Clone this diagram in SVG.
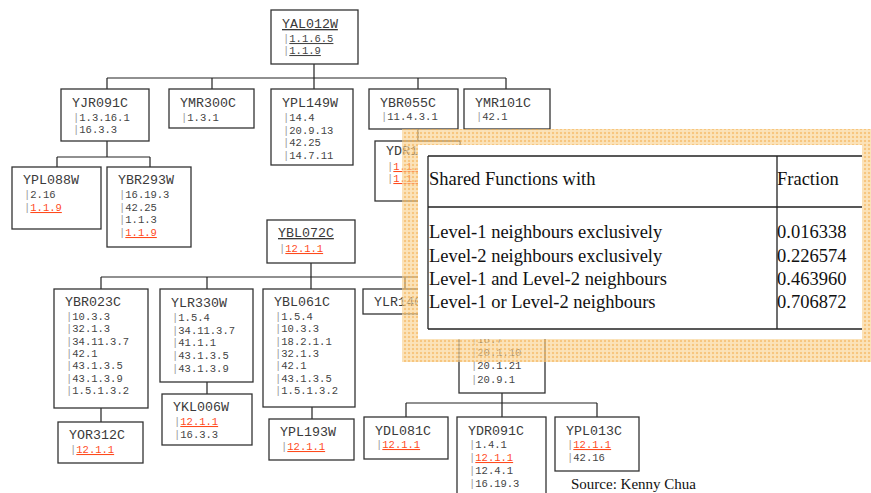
<svg xmlns="http://www.w3.org/2000/svg" width="871" height="493" viewBox="0 0 871 493">
<defs>
<style>
.box{fill:#fff;stroke:#333;stroke-width:1.3}
.t{font-family:"Liberation Mono",monospace;font-size:13.3px;fill:#3a3a3a}
.s{font-family:"Liberation Mono",monospace;font-size:10.5px;fill:#444}
.b{fill:#999}
.r{fill:#ff4a1c;text-decoration:underline}
.u{text-decoration:underline}
.c{stroke:#222;stroke-width:1.2;fill:none}
.tl{stroke:#222;stroke-width:1.3;fill:none}
.tx{font-family:"Liberation Serif",serif;font-size:18.5px;fill:#111}
</style>
<pattern id="org" width="4" height="4" patternUnits="userSpaceOnUse">
<rect width="4" height="4" fill="#f9cd85" fill-opacity="0.6"/>
<rect width="2" height="2" fill="#f4ab48" fill-opacity="0.5"/>
<rect x="2" y="2" width="2" height="2" fill="#fde6c0" fill-opacity="0.4"/>
</pattern>
</defs>
<g id="connectors" class="c">
<path d="M314,64V78M107,78H506M107,78V89M212,78V89M314,78V89M418,78V89M506,78V89"/>
<path d="M418,129V141"/>
<path d="M107,141V157M57,157H150M57,157V167M150,157V167"/>
<path d="M311,263V277M101,277H502M101,277V289M207,277V289M311,277V289M405,277V289M502,277V289"/>
<path d="M101,408V422M207,382V394M312,407V419"/>
<path d="M502,393V403M406,403H597M406,403V417M502,403V417M597,403V417"/>
</g>
<g id="YAL012W"><rect class="box" x="271" y="10" width="87" height="54"/>
<text class="t u" x="282" y="28">YAL012W</text>
<text class="s" x="283" y="42"><tspan class="b">|</tspan><tspan class="u">1.1.6.5</tspan></text>
<text class="s" x="283" y="54"><tspan class="b">|</tspan><tspan class="u">1.1.9</tspan></text></g>
<g id="YJR091C"><rect class="box" x="61" y="89" width="88" height="52"/>
<text class="t" x="72" y="107">YJR091C</text>
<text class="s" x="73" y="121"><tspan class="b">|</tspan>1.3.16.1</text>
<text class="s" x="73" y="133"><tspan class="b">|</tspan>16.3.3</text></g>
<g id="YMR300C"><rect class="box" x="169" y="89" width="85" height="39"/>
<text class="t" x="180" y="107">YMR300C</text>
<text class="s" x="181" y="121"><tspan class="b">|</tspan>1.3.1</text></g>
<g id="YPL149W"><rect class="box" x="271" y="89" width="82" height="76"/>
<text class="t" x="282" y="107">YPL149W</text>
<text class="s" x="283" y="121"><tspan class="b">|</tspan>14.4</text>
<text class="s" x="283" y="133.5"><tspan class="b">|</tspan>20.9.13</text>
<text class="s" x="283" y="146"><tspan class="b">|</tspan>42.25</text>
<text class="s" x="283" y="158.5"><tspan class="b">|</tspan>14.7.11</text></g>
<g id="YBR055C"><rect class="box" x="369" y="89" width="89" height="40"/>
<text class="t" x="380" y="107">YBR055C</text>
<text class="s" x="381" y="120"><tspan class="b">|</tspan>11.4.3.1</text></g>
<g id="YMR101C"><rect class="box" x="464" y="89" width="86" height="40"/>
<text class="t" x="475" y="107">YMR101C</text>
<text class="s" x="476" y="120"><tspan class="b">|</tspan>42.1</text></g>
<g id="YDR1"><rect class="box" x="375" y="141" width="85" height="60"/>
<text class="t" x="386" y="155">YDR1</text>
<text class="s" x="387" y="170"><tspan class="b">|</tspan><tspan class="r">1.1.</tspan></text>
<text class="s" x="387" y="182"><tspan class="b">|</tspan><tspan class="r">1.1.</tspan></text></g>
<g id="YPL088W"><rect class="box" x="12" y="167" width="89" height="62"/>
<text class="t" x="23" y="184">YPL088W</text>
<text class="s" x="24" y="198"><tspan class="b">|</tspan>2.16</text>
<text class="s" x="24" y="211"><tspan class="b">|</tspan><tspan class="r">1.1.9</tspan></text></g>
<g id="YBR293W"><rect class="box" x="107" y="167" width="84" height="80"/>
<text class="t" x="118" y="184">YBR293W</text>
<text class="s" x="119" y="198"><tspan class="b">|</tspan>16.19.3</text>
<text class="s" x="119" y="210.5"><tspan class="b">|</tspan>42.25</text>
<text class="s" x="119" y="223"><tspan class="b">|</tspan>1.1.3</text>
<text class="s" x="119" y="236"><tspan class="b">|</tspan><tspan class="r">1.1.9</tspan></text></g>
<g id="YBL072C"><rect class="box" x="267" y="220" width="88" height="43"/>
<text class="t u" x="278" y="237">YBL072C</text>
<text class="s" x="279" y="252"><tspan class="b">|</tspan><tspan class="r">12.1.1</tspan></text></g>
<g id="YBR023C"><rect class="box" x="54" y="289" width="94" height="119"/>
<text class="t" x="65" y="306">YBR023C</text>
<text class="s" x="66" y="320"><tspan class="b">|</tspan>10.3.3</text>
<text class="s" x="66" y="332.3"><tspan class="b">|</tspan>32.1.3</text>
<text class="s" x="66" y="344.7"><tspan class="b">|</tspan>34.11.3.7</text>
<text class="s" x="66" y="357"><tspan class="b">|</tspan>42.1</text>
<text class="s" x="66" y="369.3"><tspan class="b">|</tspan>43.1.3.5</text>
<text class="s" x="66" y="381.7"><tspan class="b">|</tspan>43.1.3.9</text>
<text class="s" x="66" y="394"><tspan class="b">|</tspan>1.5.1.3.2</text></g>
<g id="YOR312C"><rect class="box" x="58" y="422" width="85" height="41"/>
<text class="t" x="69" y="439">YOR312C</text>
<text class="s" x="70" y="453"><tspan class="b">|</tspan><tspan class="r">12.1.1</tspan></text></g>
<g id="YLR330W"><rect class="box" x="160" y="289" width="93" height="93"/>
<text class="t" x="171" y="307">YLR330W</text>
<text class="s" x="172" y="321"><tspan class="b">|</tspan>1.5.4</text>
<text class="s" x="172" y="333.5"><tspan class="b">|</tspan>34.11.3.7</text>
<text class="s" x="172" y="346"><tspan class="b">|</tspan>41.1.1</text>
<text class="s" x="172" y="358.5"><tspan class="b">|</tspan>43.1.3.5</text>
<text class="s" x="172" y="372"><tspan class="b">|</tspan>43.1.3.9</text></g>
<g id="YKL006W"><rect class="box" x="162" y="394" width="90" height="51"/>
<text class="t" x="173" y="411">YKL006W</text>
<text class="s" x="174" y="425"><tspan class="b">|</tspan><tspan class="r">12.1.1</tspan></text>
<text class="s" x="174" y="437.5"><tspan class="b">|</tspan>16.3.3</text></g>
<g id="YBL061C"><rect class="box" x="263" y="289" width="92" height="118"/>
<text class="t" x="274" y="306">YBL061C</text>
<text class="s" x="275" y="320"><tspan class="b">|</tspan>1.5.4</text>
<text class="s" x="275" y="332.3"><tspan class="b">|</tspan>10.3.3</text>
<text class="s" x="275" y="344.7"><tspan class="b">|</tspan>18.2.1.1</text>
<text class="s" x="275" y="357"><tspan class="b">|</tspan>32.1.3</text>
<text class="s" x="275" y="369.3"><tspan class="b">|</tspan>42.1</text>
<text class="s" x="275" y="381.7"><tspan class="b">|</tspan>43.1.3.5</text>
<text class="s" x="275" y="394"><tspan class="b">|</tspan>1.5.1.3.2</text></g>
<g id="YPL193W"><rect class="box" x="269" y="419" width="85" height="41"/>
<text class="t" x="280" y="436">YPL193W</text>
<text class="s" x="281" y="450"><tspan class="b">|</tspan><tspan class="r">12.1.1</tspan></text></g>
<g id="YLR140"><rect class="box" x="363" y="289" width="90" height="25"/>
<text class="t" x="374" y="306">YLR140</text></g>
<g id="hidden-node"><rect class="box" x="459" y="289" width="86" height="104"/>
<text class="s" x="471" y="343"><tspan class="b">|</tspan>16.7</text>
<text class="s" x="471" y="356"><tspan class="b">|</tspan>20.1.10</text>
<text class="s" x="471" y="369"><tspan class="b">|</tspan>20.1.21</text>
<text class="s" x="471" y="382.5"><tspan class="b">|</tspan>20.9.1</text></g>
<g id="YDL081C"><rect class="box" x="364" y="417" width="84" height="42"/>
<text class="t" x="375" y="435">YDL081C</text>
<text class="s" x="376" y="448"><tspan class="b">|</tspan><tspan class="r">12.1.1</tspan></text></g>
<g id="YDR091C"><rect class="box" x="457" y="417" width="89" height="90"/>
<text class="t" x="468" y="435">YDR091C</text>
<text class="s" x="469" y="448"><tspan class="b">|</tspan>1.4.1</text>
<text class="s" x="469" y="461"><tspan class="b">|</tspan><tspan class="r">12.1.1</tspan></text>
<text class="s" x="469" y="474"><tspan class="b">|</tspan>12.4.1</text>
<text class="s" x="469" y="487"><tspan class="b">|</tspan>16.19.3</text></g>
<g id="YPL013C"><rect class="box" x="555" y="417" width="84" height="54"/>
<text class="t" x="566" y="435">YPL013C</text>
<text class="s" x="567" y="448"><tspan class="b">|</tspan><tspan class="r">12.1.1</tspan></text>
<text class="s" x="567" y="461"><tspan class="b">|</tspan>42.16</text></g>
<g id="table-overlay">
<rect x="402" y="129" width="469" height="233" fill="url(#org)"/>
<rect x="418" y="145" width="444" height="194" fill="#fff"/>
<path class="tl" d="M428,156H862M428,207H862M428,329H862M428,156V329M777,156V329"/>
<text class="tx" x="429" y="185">Shared Functions with</text>
<text class="tx" x="777" y="185">Fraction</text>
<text class="tx" x="429" y="237.5">Level-1 neighbours exclusively</text>
<text class="tx" x="429" y="261.5">Level-2 neighbours exclusively</text>
<text class="tx" x="429" y="285">Level-1 and Level-2 neighbours</text>
<text class="tx" x="429" y="308">Level-1 or Level-2 neighbours</text>
<text class="tx" x="777" y="237.5">0.016338</text>
<text class="tx" x="777" y="261.5">0.226574</text>
<text class="tx" x="777" y="285">0.463960</text>
<text class="tx" x="777" y="308">0.706872</text>
</g>
<text x="571" y="489" font-family="Liberation Serif, serif" font-size="15" fill="#111">Source: Kenny Chua</text>
</svg>
